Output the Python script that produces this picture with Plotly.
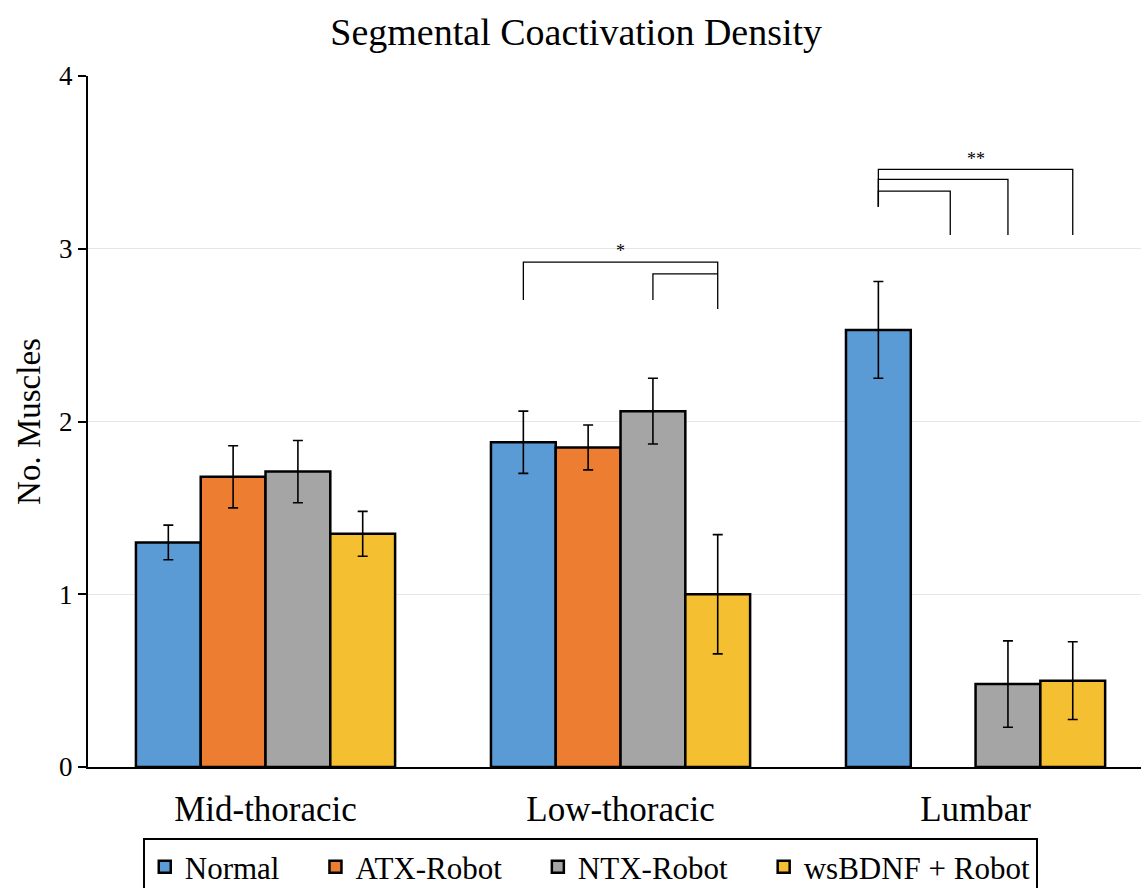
import plotly.graph_objects as go

categories = ["Mid-thoracic", "Low-thoracic", "Lumbar"]
series = ["Normal", "ATX-Robot", "NTX-Robot", "wsBDNF + Robot"]
colors = ["#5B9BD5", "#ED7D31", "#A5A5A5", "#F5BF32"]
values = {
    "Normal": [1.30, 1.88, 2.53],
    "ATX-Robot": [1.68, 1.85, None],
    "NTX-Robot": [1.71, 2.06, 0.48],
    "wsBDNF + Robot": [1.35, 1.00, 0.50],
}
errors = {
    "Normal": [0.10, 0.18, 0.28],
    "ATX-Robot": [0.18, 0.13, 0],
    "NTX-Robot": [0.18, 0.19, 0.25],
    "wsBDNF + Robot": [0.13, 0.345, 0.225],
}

# significance brackets: (category index, bar idx left, bar idx right, top y, left leg bottom, right leg bottom)
brackets = [
    (1, 0, 3, 2.923, 2.703, 2.651),
    (1, 2, 3, 2.854, 2.703, 2.854),
    (2, 0, 3, 3.459, 3.243, 3.08),
    (2, 0, 2, 3.402, 3.243, 3.08),
    (2, 0, 1, 3.334, 3.243, 3.08),
]
stars = [(1, "*", 2.985), (2, "**", 3.52)]

bargap = 0.27
barw = (1 - bargap) / 4

def bar_x(cat, idx):
    return cat + (idx - 1.5) * barw

font = "Liberation Serif, Times New Roman, serif"
pad = "\u00a0\u00a0\u00a0\u00a0"

fig = go.Figure()
for k, (s, c) in enumerate(zip(series, colors)):
    label = s + (pad if k < len(series) - 1 else "")
    fig.add_trace(go.Bar(
        name=label, x=categories, y=values[s], marker=dict(color=c, line=dict(color="black", width=2.5)),
        error_y=dict(type="data", array=errors[s], color="black", thickness=1.6, width=5),
    ))

for cat, i0, i1, top, lb, rb in brackets:
    x0 = bar_x(cat, i0)
    x1 = bar_x(cat, i1)
    if cat == 2 and i1 == 1:
        x1 += 0.02
    fig.add_shape(type="path", path=f"M {x0} {lb} L {x0} {top} L {x1} {top} L {x1} {rb}",
                  line=dict(color="black", width=1.3), xref="x", yref="y")
for cat, txt, y in stars:
    fig.add_annotation(x=cat, y=y, text=txt, showarrow=False, font=dict(family=font, size=18, color="black"))

fig.update_layout(
    width=1141, height=888,
    paper_bgcolor="white", plot_bgcolor="white",
    margin=dict(l=88, r=0, t=76, b=121, autoexpand=False),
    barmode="group", bargap=bargap, bargroupgap=0,
    title=dict(text="Segmental Coactivation Density", x=0.505, xanchor="center", y=0.964, yanchor="middle",
               font=dict(family=font, size=38, color="black")),
    font=dict(family=font, color="black"),
    showlegend=True,
    legend=dict(orientation="h", x=0.052, xanchor="left", y=-0.103, yanchor="top",
                bordercolor="black", borderwidth=2, font=dict(family=font, size=31, color="black"),
                itemwidth=30, tracegroupgap=0),
)
fig.update_xaxes(range=[-0.5, 2.466], showline=True, linecolor="black", linewidth=2, ticks="",
                 tickfont=dict(family=font, size=35, color="black"), ticklabelstandoff=10, fixedrange=True)
fig.update_yaxes(range=[0, 4], dtick=1, showline=True, linecolor="black", linewidth=2, ticks="outside",
                 ticklen=8, tickcolor="black", tickwidth=2, showgrid=True, gridcolor="#E6E6E6", gridwidth=1,
                 tickfont=dict(family=font, size=27, color="black"), zeroline=False,
                 title=dict(text="No. Muscles", font=dict(family=font, size=33, color="black"), standoff=9))

fig.write_html("out.html", config={"displayModeBar": False},
               post_script="document.body.style.margin='0px';document.body.style.overflow='hidden';")
